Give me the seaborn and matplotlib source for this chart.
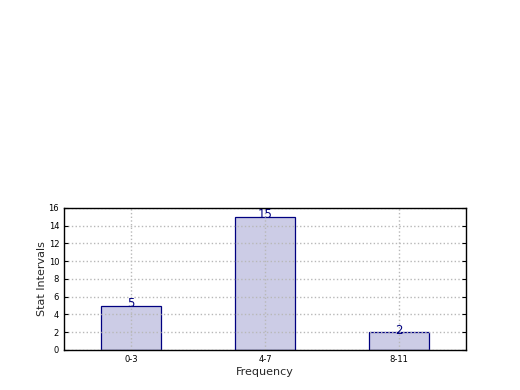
import pandas as pd
import numpy as np
import matplotlib
matplotlib.use('Agg')
import matplotlib.pyplot as plt
import seaborn as sns

categorias = ['0-3', '4-7', '8-11']
valores = [5, 15, 2]

sns.set_style('white')
plt.rcParams['font.family'] = ['DejaVu Sans']

dados = pd.DataFrame({'faixa': categorias, 'valor': valores})

fig = plt.figure(figsize=(5.2, 3.9), dpi=100)
ax = fig.add_axes([0.123, 0.1026, 0.773, 0.3642])

sns.barplot(data=dados, x='faixa', y='valor', ax=ax, width=0.45,
            color=(0.8, 0.8, 0.9), edgecolor='navy', linewidth=0.9,
            saturation=1, zorder=1)

for i, v in enumerate(valores):
    ax.text(i, v - 0.15, str(v), ha='center', va='baseline', color='navy', fontsize=8.5)

ax.set_xlim(-0.5, 2.5)
ax.set_ylim(0, 16)
ax.set_yticks(range(0, 17, 2))
ax.grid(True, color='#b8b8b8', linestyle=':', linewidth=1.0)
ax.set_axisbelow(False)
for s in ax.spines.values():
    s.set_color('black')
    s.set_linewidth(1)
    s.set_zorder(5)
ax.tick_params(direction='in', length=3, labelsize=6, top=True, right=True,
               left=True, bottom=True, colors='black')
ax.tick_params(axis='x', top=False, bottom=False)
ax.set_xlabel('Frequency', fontsize=8, labelpad=2)
ax.set_ylabel('Stat Intervals', fontsize=8, labelpad=1)

fig.savefig('out.png', dpi=100)
